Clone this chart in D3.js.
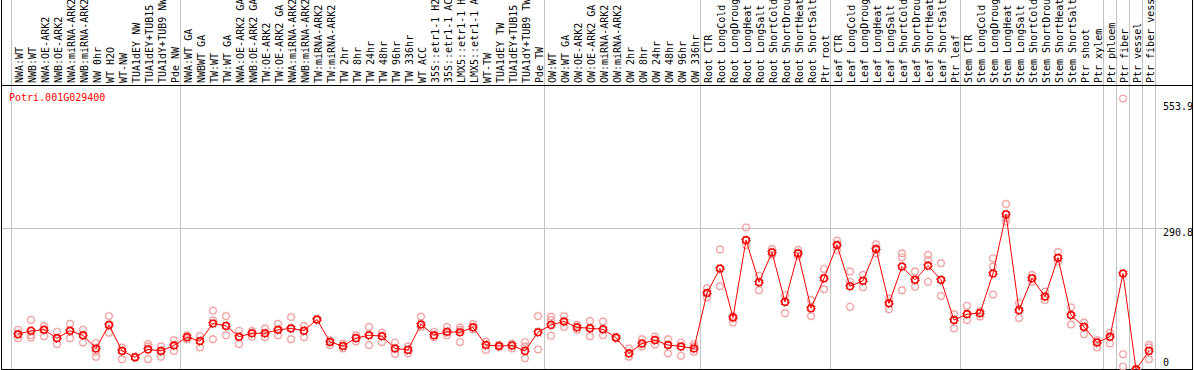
<!DOCTYPE html>
<html>
<head>
<meta charset="utf-8">
<script src="https://cdn.jsdelivr.net/npm/d3@7"></script>
<style>
  body { margin: 0; background: #fff; }
  text { font-family: "DejaVu Sans Mono", monospace; font-size: 10px; }
</style>
</head>
<body>
<div id="chart"></div>
<script>
const geneId = "Potri.001G029400";

const samples = [
    "NWA:WT", "NWB:WT", "NWA:OE-ARK2", "NWB:OE-ARK2", "NWA:miRNA-ARK2", "NWB:miRNA-ARK2",
    "NW 0hr", "WT H2O", "WT-NW", "TUA1dEY NW", "TUA1dEY+TUB15", "TUA1dY+TUB9 NW", "Pde NW",
    "NWA:WT GA", "NWBWT GA", "TW:WT", "TW:WT GA", "NWA:OE-ARK2 GA", "NWB:OE-ARK2 GA",
    "TW:OE-ARK2", "TW:OE-ARK2 GA", "NWA:miRNA-ARK2 GA", "NWB:miRNA-ARK2 GA", "TW:miRNA-ARK2",
    "TW:miRNA-ARK2 GA", "TW 2hr", "TW 8hr", "TW 24hr", "TW 48hr", "TW 96hr", "TW 336hr",
    "WT ACC", "35S::etr1-1 H2O", "35S::etr1-1 ACC", "LMX5::etr1-1 H2O", "LMX5::etr1-1 ACC",
    "WT-TW", "TUA1dEY TW", "TUA1dEY+TUB15", "TUA1dY+TUB9 TW", "Pde TW",
    "OW:WT", "OW:WT GA", "OW:OE-ARK2", "OW:OE-ARK2 GA", "OW:miRNA-ARK2", "OW:miRNA-ARK2 GA",
    "OW 2hr", "OW 8hr", "OW 24hr", "OW 48hr", "OW 96hr", "OW 336hr",
    "Root CTR", "Root LongCold", "Root LongDrought", "Root LongHeat", "Root LongSalt",
    "Root ShortCold", "Root ShortDrought", "Root ShortHeat", "Root ShortSalt", "Ptr root",
    "Leaf CTR", "Leaf LongCold", "Leaf LongDrought", "Leaf LongHeat", "Leaf LongSalt",
    "Leaf ShortCold", "Leaf ShortDrought", "Leaf ShortHeat", "Leaf ShortSalt", "Ptr leaf",
    "Stem CTR", "Stem LongCold", "Stem LongDrought", "Stem LongHeat", "Stem LongSalt",
    "Stem ShortCold", "Stem ShortDrought", "Stem ShortHeat", "Stem ShortSalt", "Ptr shoot", "Ptr xylem",
    "Ptr phloem", "Ptr fiber", "Ptr vessel", "Ptr fiber vessel"
];

// number of samples in each block separated by grey lines
const groupSizes = [13, 28, 12, 10, 10, 11, 1, 1, 1, 1];

const meanValues = [
    73, 80, 82, 65, 80, 71, 44, 92, 39, 26, 42, 39, 50,
    67, 59, 95, 90, 68, 75, 75, 82, 85, 80, 103, 57, 49, 65, 71, 69, 44, 41,
    93, 71, 78, 77, 87, 51, 49, 50, 39, 77,
    92, 99, 87, 85, 83, 66, 34, 54, 61, 51, 48, 44,
    157, 207, 107, 265, 179, 240, 139, 238, 126, 187,
    255, 171, 182, 247, 136, 211, 184, 213, 184, 102,
    114, 116, 197, 318, 122, 187, 150, 229, 112, 88, 56,
    68, 197, 1, 39
];

const rep1 = [
    82, 102, 90, 78, 94, 82, 55, 110, 46, 27, 53, 48, 61,
    71, 69, 121, 110, 80, 80, 85, 94, 108, 90, 104, 61, 54, 71, 88, 76, 56, 48,
    109, 78, 88, 87, 94, 58, 51, 54, 57, 110,
    109, 110, 92, 100, 99, 68, 44, 63, 68, 63, 56, 53,
    167, 246, 110, 291, 192, 247, 153, 245, 143, 206,
    264, 201, 194, 257, 146, 238, 201, 235, 218, 114,
    131, 120, 228, 339, 137, 194, 160, 241, 128, 97, 61,
    76, 554, 2, 51
];

const rep2 = [
    73, 71, 82, 65, 80, 71, 37, 92, 39, 26, 48, 37, 51,
    67, 59, 101, 90, 68, 75, 75, 82, 84, 80, 103, 57, 49, 65, 71, 69, 44, 41,
    93, 71, 78, 82, 87, 51, 49, 50, 48, 77,
    102, 99, 87, 85, 83, 66, 34, 54, 61, 51, 48, 48,
    157, 207, 107, 265, 179, 240, 139, 238, 126, 187,
    255, 180, 182, 247, 136, 230, 184, 224, 184, 102,
    114, 116, 211, 310, 122, 187, 150, 229, 112, 88, 56,
    68, 32, 1, 46
];

const rep3 = [
    65, 66, 69, 53, 65, 56, 27, 76, 22, 25, 22, 27, 39,
    63, 46, 63, 71, 53, 68, 67, 71, 63, 67, 102, 51, 44, 58, 51, 57, 33, 34,
    88, 67, 71, 57, 83, 41, 47, 44, 24, 42,
    70, 88, 82, 69, 71, 65, 27, 48, 52, 34, 29, 37,
    148, 171, 97, 255, 163, 235, 116, 233, 110, 165,
    245, 129, 169, 238, 124, 163, 170, 180, 151, 85,
    102, 109, 154, 303, 106, 180, 143, 221, 93, 73, 46,
    54, 7, 0, 22
];

const tickValues = [553.9, 290.8, 0];

const width = 1194, height = 370;
const plotLeft = 11, plotRight = 1155, headerBottom = 85;

const svg = d3.select("#chart")
              .append("svg")
              .attr("width", width)
              .attr("height", height)
              .style("display", "block");

// band per sample index (some sample names repeat)
const x = d3.scaleBand()
            .domain(d3.range(samples.length))
            .range([plotLeft, plotRight])
            .padding(0);

const y = d3.scaleLinear()
            .domain([0, 553.9])
            .range([370, 98.6]);

const cx = function(i) { return x(i) + 7; };

// grey separators between sample blocks
const bounds = [plotLeft];
let acc = 0;
groupSizes.forEach(function(n) {
    acc += n;
    bounds.push(acc < samples.length ? x(acc) : plotRight);
});

svg.selectAll(".vgrid")
   .data(bounds)
   .enter()
   .append("line")
   .attr("class", "vgrid")
   .attr("x1", function(d) { return d + 0.5; })
   .attr("x2", function(d) { return d + 0.5; })
   .attr("y1", 0)
   .attr("y2", height)
   .attr("stroke", "#c4c4c4")
   .attr("stroke-width", 1);

svg.append("line")
   .attr("x1", 1)
   .attr("x2", 1163)
   .attr("y1", Math.round(y(290.8)) + 0.5)
   .attr("y2", Math.round(y(290.8)) + 0.5)
   .attr("stroke", "#c4c4c4");

// frame
svg.append("line").attr("x1", 1.5).attr("x2", 1.5).attr("y1", 0).attr("y2", height).attr("stroke", "#000");
svg.append("line").attr("x1", 1192.5).attr("x2", 1192.5).attr("y1", 0).attr("y2", height).attr("stroke", "#000");
svg.append("line").attr("x1", 1).attr("x2", 1193).attr("y1", headerBottom + 0.5).attr("y2", headerBottom + 0.5).attr("stroke", "#000");
svg.append("line").attr("x1", 1).attr("x2", 1193).attr("y1", 369.5).attr("y2", 369.5).attr("stroke", "#000");

// sample labels, rotated
svg.selectAll(".label")
   .data(samples)
   .enter()
   .append("text")
   .attr("class", "label")
   .attr("transform", function(d, i) {
       return "translate(" + (x(i) + 11.5) + "," + (headerBottom - 2) + ") rotate(-90)";
   })
   .attr("text-anchor", "start")
   .attr("fill", "#000")
   .text(function(d) { return d; });

svg.append("text")
   .attr("x", 9)
   .attr("y", 101)
   .attr("fill", "#ff0000")
   .text(geneId);

svg.selectAll(".tick")
   .data(tickValues)
   .enter()
   .append("text")
   .attr("class", "tick")
   .attr("x", 1163)
   .attr("y", function(d) { return Math.max(110, Math.min(366, y(d) + 8)); })
   .attr("fill", "#000")
   .text(function(d) { return d; });

const reps = [];
[rep1, rep2, rep3].forEach(function(r) {
    r.forEach(function(v, i) { reps.push({i: i, v: v}); });
});

const rings = function(sel, color, ringColor, width) {
    sel.append("circle")
       .attr("cx", function(d) { return cx(d.i); })
       .attr("cy", function(d) { return y(d.v); })
       .attr("r", 4.3)
       .attr("fill", "none")
       .attr("stroke", ringColor)
       .attr("stroke-width", 1)
       .attr("stroke-dasharray", "1 2.38");
    sel.append("circle")
       .attr("cx", function(d) { return cx(d.i); })
       .attr("cy", function(d) { return y(d.v); })
       .attr("r", 3.3)
       .attr("fill", "none")
       .attr("stroke", color)
       .attr("stroke-width", width);
};

const repG = svg.append("g").selectAll("g")
                .data(reps)
                .enter()
                .append("g");
rings(repG, "#f0a0a0", "#f6c4c4", 1.2);

const meanData = meanValues.map(function(v, i) { return {i: i, v: v}; });

svg.append("path")
   .datum(meanData)
   .attr("fill", "none")
   .attr("stroke", "#ff0000")
   .attr("stroke-width", 1)
   .attr("d", d3.line()
               .x(function(d) { return cx(d.i); })
               .y(function(d) { return y(d.v); }));

const meanG = svg.append("g").selectAll("g")
                 .data(meanData)
                 .enter()
                 .append("g");
rings(meanG, "#ff0000", "#a00000", 1.5);
</script>
</body>
</html>
